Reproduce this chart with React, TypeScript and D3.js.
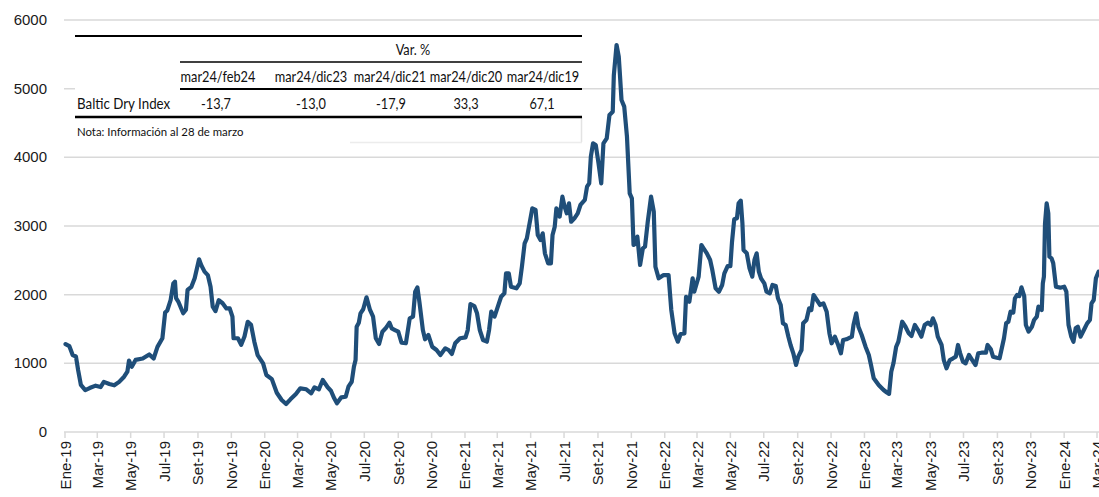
import React from "react";
import * as d3 from "d3";

type Pt = [string, number];

const bdi2019: Pt[] = [
  ["2019-01-02", 1280], ["2019-01-09", 1250], ["2019-01-15", 1120], ["2019-01-21", 1100], ["2019-01-25", 900],
  ["2019-01-30", 685], ["2019-02-07", 610], ["2019-02-15", 640], ["2019-02-26", 675], ["2019-03-07", 655],
  ["2019-03-13", 730], ["2019-03-23", 700], ["2019-04-01", 680], ["2019-04-10", 730], ["2019-04-19", 805],
  ["2019-04-25", 880], ["2019-04-28", 1040], ["2019-05-03", 950], ["2019-05-10", 1050], ["2019-05-23", 1070],
  ["2019-06-04", 1130], ["2019-06-12", 1070], ["2019-06-19", 1240], ["2019-06-28", 1365], ["2019-07-03", 1740],
  ["2019-07-07", 1770], ["2019-07-13", 1920], ["2019-07-18", 2165], ["2019-07-21", 2190], ["2019-07-23", 1950],
  ["2019-07-27", 1900], ["2019-08-05", 1730], ["2019-08-10", 1780], ["2019-08-13", 2070], ["2019-08-20", 2115],
  ["2019-08-26", 2240], ["2019-09-03", 2515], ["2019-09-07", 2430], ["2019-09-13", 2335], ["2019-09-19", 2285],
  ["2019-09-24", 2115], ["2019-09-28", 1825], ["2019-10-03", 1760], ["2019-10-09", 1920], ["2019-10-16", 1875],
  ["2019-10-23", 1800], ["2019-10-29", 1800], ["2019-11-03", 1680], ["2019-11-05", 1365], ["2019-11-13", 1365],
  ["2019-11-19", 1270], ["2019-11-25", 1390], ["2019-12-01", 1605], ["2019-12-07", 1560], ["2019-12-13", 1315],
  ["2019-12-19", 1120], ["2019-12-29", 1000],
];

const bdi2020: Pt[] = [
  ["2020-01-04", 830], ["2020-01-14", 770], ["2020-01-23", 572], ["2020-02-01", 466], ["2020-02-09", 408],
  ["2020-02-17", 476], ["2020-02-27", 553], ["2020-03-06", 636], ["2020-03-17", 622], ["2020-03-26", 564],
  ["2020-04-01", 651], ["2020-04-09", 622], ["2020-04-16", 757], ["2020-04-25", 651], ["2020-05-01", 601],
  ["2020-05-07", 490], ["2020-05-12", 418], ["2020-05-20", 505], ["2020-05-28", 514], ["2020-06-02", 660],
  ["2020-06-08", 732], ["2020-06-12", 951], ["2020-06-15", 1048], ["2020-06-17", 1533], ["2020-06-21", 1592],
  ["2020-06-24", 1728], ["2020-06-29", 1787], ["2020-07-05", 1962], ["2020-07-11", 1787], ["2020-07-17", 1680],
  ["2020-07-22", 1365], ["2020-07-28", 1282], ["2020-08-03", 1461], ["2020-08-09", 1510], ["2020-08-16", 1592],
  ["2020-08-20", 1510], ["2020-08-26", 1485], ["2020-09-01", 1461], ["2020-09-07", 1300], ["2020-09-15", 1292],
  ["2020-09-22", 1656], ["2020-09-28", 1680], ["2020-10-02", 2043], ["2020-10-06", 2107], ["2020-10-10", 1874],
  ["2020-10-16", 1485], ["2020-10-20", 1350], ["2020-10-26", 1413], ["2020-11-02", 1242], ["2020-11-10", 1194],
  ["2020-11-17", 1121], ["2020-11-26", 1219], ["2020-12-02", 1194], ["2020-12-08", 1136], ["2020-12-14", 1292],
  ["2020-12-23", 1365],
];

const bdi2021: Pt[] = [
  ["2021-01-02", 1379], ["2021-01-06", 1485], ["2021-01-11", 1864], ["2021-01-18", 1835], ["2021-01-23", 1728],
  ["2021-01-28", 1485], ["2021-02-03", 1340], ["2021-02-10", 1315], ["2021-02-14", 1485], ["2021-02-18", 1752],
  ["2021-02-24", 1680], ["2021-03-02", 1825], ["2021-03-08", 1970], ["2021-03-14", 2020], ["2021-03-17", 2311],
  ["2021-03-22", 2311], ["2021-03-26", 2116], ["2021-04-05", 2092], ["2021-04-11", 2165], ["2021-04-15", 2407],
  ["2021-04-20", 2748], ["2021-04-24", 2820], ["2021-04-29", 3039], ["2021-05-04", 3257], ["2021-05-10", 3233],
  ["2021-05-14", 2869], ["2021-05-19", 2796], ["2021-05-23", 2893], ["2021-05-27", 2602], ["2021-06-02", 2457],
  ["2021-06-07", 2457], ["2021-06-10", 2869], ["2021-06-14", 2990], ["2021-06-17", 3257], ["2021-06-23", 3136],
  ["2021-06-28", 3427], ["2021-07-02", 3281], ["2021-07-06", 3184], ["2021-07-10", 3330], ["2021-07-14", 3063],
  ["2021-07-20", 3112], ["2021-07-26", 3184], ["2021-07-31", 3306], ["2021-08-08", 3379], ["2021-08-12", 3572],
  ["2021-08-16", 3621], ["2021-08-19", 4009], ["2021-08-23", 4203], ["2021-08-28", 4180], ["2021-09-02", 3913],
  ["2021-09-07", 3621], ["2021-09-11", 4203], ["2021-09-17", 4276], ["2021-09-22", 4616], ["2021-09-28", 4664],
  ["2021-09-30", 5198], ["2021-10-05", 5636], ["2021-10-09", 5465], ["2021-10-11", 5223], ["2021-10-14", 4835],
  ["2021-10-19", 4738], ["2021-10-24", 4301], ["2021-10-29", 3476], ["2021-11-02", 3403], ["2021-11-05", 2723],
  ["2021-11-10", 2748], ["2021-11-12", 2845], ["2021-11-17", 2432], ["2021-11-22", 2675], ["2021-11-26", 2699],
  ["2021-12-01", 3063], ["2021-12-07", 3427], ["2021-12-12", 3209], ["2021-12-15", 2407], ["2021-12-21", 2238],
  ["2021-12-30", 2286],
];

const bdi2022: Pt[] = [
  ["2022-01-08", 2286], ["2022-01-13", 1777], ["2022-01-19", 1437], ["2022-01-25", 1315], ["2022-01-30", 1427],
  ["2022-02-06", 1437], ["2022-02-09", 1970], ["2022-02-15", 1898], ["2022-02-21", 2238], ["2022-02-24", 2043],
  ["2022-03-04", 2262], ["2022-03-09", 2723], ["2022-03-13", 2675], ["2022-03-19", 2602], ["2022-03-25", 2505],
  ["2022-03-29", 2359], ["2022-04-04", 2092], ["2022-04-10", 2043], ["2022-04-16", 2141], ["2022-04-20", 2311],
  ["2022-04-26", 2417], ["2022-05-01", 2417], ["2022-05-04", 2771], ["2022-05-08", 3097], ["2022-05-13", 3112],
  ["2022-05-16", 3330], ["2022-05-20", 3369], ["2022-05-23", 3039], ["2022-05-25", 2650], ["2022-05-31", 2602],
  ["2022-06-05", 2384], ["2022-06-10", 2262], ["2022-06-14", 2505], ["2022-06-18", 2602], ["2022-06-22", 2335],
  ["2022-06-26", 2238], ["2022-07-02", 2165], ["2022-07-06", 2043], ["2022-07-12", 2020], ["2022-07-17", 2141],
  ["2022-07-23", 2126], ["2022-07-27", 1947], ["2022-08-01", 1850], ["2022-08-05", 1583], ["2022-08-10", 1558],
  ["2022-08-15", 1388], ["2022-08-19", 1267], ["2022-08-24", 1146], ["2022-08-29", 976], ["2022-09-02", 1097],
  ["2022-09-08", 1194], ["2022-09-11", 1583], ["2022-09-17", 1631], ["2022-09-22", 1801], ["2022-09-26", 1777],
  ["2022-09-30", 1995], ["2022-10-06", 1922], ["2022-10-12", 1850], ["2022-10-18", 1874], ["2022-10-24", 1752],
  ["2022-10-29", 1437], ["2022-11-02", 1292], ["2022-11-08", 1388], ["2022-11-14", 1267], ["2022-11-19", 1146],
  ["2022-11-23", 1340], ["2022-11-29", 1350], ["2022-12-09", 1388], ["2022-12-12", 1558], ["2022-12-17", 1728],
  ["2022-12-21", 1533], ["2022-12-27", 1413],
];

const bdi2023: Pt[] = [
  ["2023-01-03", 1242], ["2023-01-09", 1121], ["2023-01-13", 976], ["2023-01-18", 782], ["2023-01-27", 684],
  ["2023-02-05", 612], ["2023-02-11", 575], ["2023-02-15", 555], ["2023-02-19", 878], ["2023-02-23", 1000],
  ["2023-02-28", 1242], ["2023-03-04", 1315], ["2023-03-11", 1606], ["2023-03-17", 1533], ["2023-03-23", 1437],
  ["2023-03-28", 1398], ["2023-04-03", 1558], ["2023-04-09", 1485], ["2023-04-15", 1388], ["2023-04-21", 1558],
  ["2023-04-27", 1592], ["2023-05-02", 1558], ["2023-05-06", 1656], ["2023-05-11", 1558], ["2023-05-15", 1388],
  ["2023-05-22", 1267], ["2023-05-26", 1048], ["2023-05-31", 927], ["2023-06-06", 1048], ["2023-06-12", 1073],
  ["2023-06-17", 1097], ["2023-06-21", 1267], ["2023-06-25", 1146], ["2023-06-30", 1024], ["2023-07-05", 1000],
  ["2023-07-11", 1121], ["2023-07-17", 1048], ["2023-07-23", 976], ["2023-07-28", 1146], ["2023-08-03", 1155],
  ["2023-08-11", 1155], ["2023-08-14", 1267], ["2023-08-20", 1204], ["2023-08-24", 1097], ["2023-08-31", 1082],
  ["2023-09-05", 1073], ["2023-09-09", 1219], ["2023-09-13", 1365], ["2023-09-17", 1583], ["2023-09-21", 1606],
  ["2023-09-25", 1752], ["2023-09-30", 1738], ["2023-10-03", 1947], ["2023-10-07", 1995], ["2023-10-11", 1980],
  ["2023-10-15", 2107], ["2023-10-20", 1980], ["2023-10-23", 1558], ["2023-10-28", 1461], ["2023-11-03", 1533],
  ["2023-11-07", 1631], ["2023-11-12", 1680], ["2023-11-15", 1825], ["2023-11-21", 1777], ["2023-11-23", 2165],
  ["2023-11-25", 2262], ["2023-11-27", 3039], ["2023-11-30", 3330], ["2023-12-03", 3184], ["2023-12-05", 2553],
  ["2023-12-09", 2529], ["2023-12-12", 2457], ["2023-12-17", 2116], ["2023-12-25", 2102],
];

const bdi2024: Pt[] = [
  ["2024-01-01", 2116], ["2024-01-05", 2043], ["2024-01-09", 1558], ["2024-01-14", 1388], ["2024-01-18", 1315],
  ["2024-01-22", 1510], ["2024-01-26", 1533], ["2024-01-31", 1388], ["2024-02-06", 1485], ["2024-02-12", 1583],
  ["2024-02-17", 1631], ["2024-02-20", 1874], ["2024-02-24", 1922], ["2024-02-28", 2238], ["2024-03-04", 2335],
];

const yTicks = [0, 1000, 2000, 3000, 4000, 5000, 6000];
const monthAbbr = ["Ene", "Feb", "Mar", "Abr", "May", "Jun", "Jul", "Ago", "Set", "Oct", "Nov", "Dic"];

const tableGroupTitle = "Var. %";
const tableHeaders = ["mar24/feb24", "mar24/dic23", "mar24/dic21", "mar24/dic20", "mar24/dic19"];
const tableValues = ["-13,7", "-13,0", "-17,9", "33,3", "67,1"];
const seriesName = "Baltic Dry Index";
const noteText = "Nota: Información al 28 de marzo";

const W = 1099;
const H = 497;
const headerX = [218, 311, 390, 466, 543];
const valueX = [216, 311, 391, 466, 542];

export default function App() {
  const parse = d3.timeParse("%Y-%m-%d");
  const data = [...bdi2019, ...bdi2020, ...bdi2021, ...bdi2022, ...bdi2023, ...bdi2024].map(([d, v]) => ({
    date: parse(d) as Date,
    value: v,
  }));

  const x = d3.scaleTime().domain([new Date(2019, 0, 1), new Date(2024, 2, 1)]).range([65, 1097]);
  const y = d3.scaleLinear().domain([0, 6000]).range([432, 20]);
  const line = d3
    .line<{ date: Date; value: number }>()
    .x((d) => x(d.date))
    .y((d) => y(d.value));

  const xTicks = d3.timeMonth.every(2)!.range(new Date(2019, 0, 1), new Date(2024, 2, 2));
  const fmt = (d: Date) => `${monthAbbr[d.getMonth()]}-${String(d.getFullYear()).slice(2)}`;

  const tableFont = "Lato, 'Open Sans', sans-serif";
  const axisFont = "'Liberation Sans', Arial, sans-serif";

  const T = (props: { x: number; y: number; anchor?: string; size?: number; sx?: number; children: React.ReactNode }) => (
    <text
      transform={`translate(${props.x},${props.y}) scale(${props.sx ?? 0.88},1)`}
      textAnchor={props.anchor ?? "middle"}
      fontFamily={tableFont}
      fontSize={props.size ?? 14.5}
      fill="#111"
    >
      {props.children}
    </text>
  );

  return (
    <div style={{ position: "absolute", left: 0, top: 0 }}>
      <svg width={W} height={H} style={{ display: "block", background: "#fff" }}>
        <rect x={0} y={0} width={W} height={H} fill="#fff" />
        {yTicks.map((t) => (
          <line key={t} x1={64} x2={W} y1={y(t)} y2={y(t)} stroke="#d9d9d9" strokeWidth={1.5} />
        ))}
        {yTicks.map((t) => (
          <text key={"l" + t} x={47} y={y(t) + 5} textAnchor="end" fontFamily={axisFont} fontSize={15} fill="#1a1a1a">
            {t}
          </text>
        ))}
        {xTicks.map((d) => (
          <g key={d.toISOString()}>
            <line x1={x(d)} x2={x(d)} y1={432} y2={438} stroke="#d9d9d9" strokeWidth={1.5} />
            <text
              transform={`translate(${x(d) + 5.5},${441}) rotate(-90)`}
              textAnchor="end"
              fontFamily={axisFont}
              fontSize={15}
              fill="#1a1a1a"
            >
              {fmt(d)}
            </text>
          </g>
        ))}

        <rect x={75} y={26} width={507} height={116} fill="#fff" />
        <line x1={581.5} x2={581.5} y1={117} y2={142} stroke="#e3e3e3" strokeWidth={1.5} />
        <line x1={350} x2={582} y1={142.5} y2={142.5} stroke="#ececec" strokeWidth={1.5} />
        <line x1={75} x2={582} y1={36} y2={36} stroke="#000" strokeWidth={2} />
        <line x1={180} x2={582} y1={62} y2={62} stroke="#000" strokeWidth={1.5} />
        <line x1={180} x2={582} y1={89} y2={89} stroke="#000" strokeWidth={2} />
        <line x1={75} x2={582} y1={117} y2={117} stroke="#000" strokeWidth={2.5} />
        <T x={413} y={55}>{tableGroupTitle}</T>
        {tableHeaders.map((h, i) => (
          <T key={h} x={headerX[i]} y={82}>{h}</T>
        ))}
        <T x={77} y={109} anchor="start" sx={0.92}>{seriesName}</T>
        {tableValues.map((v, i) => (
          <T key={i} x={valueX[i]} y={109}>{v}</T>
        ))}
        <T x={77} y={136} anchor="start" size={12} sx={0.95}>{noteText}</T>

        <path
          d={line(data) || ""}
          fill="none"
          stroke="#1f4e79"
          strokeWidth={4.2}
          strokeLinejoin="round"
          strokeLinecap="round"
        />
      </svg>
    </div>
  );
}
